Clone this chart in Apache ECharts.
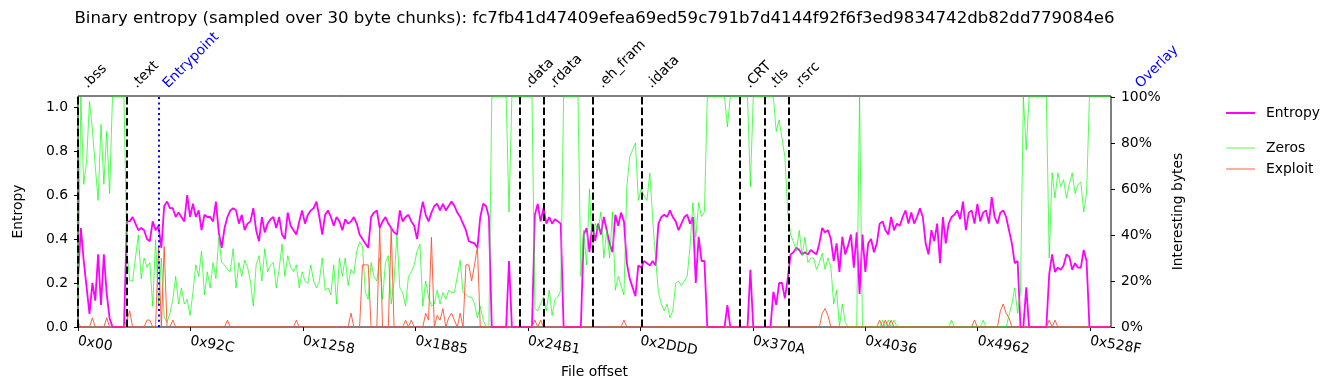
<!DOCTYPE html>
<html><head><meta charset="utf-8">
<script src="https://cdn.jsdelivr.net/npm/echarts@6/dist/echarts.min.js"></script>
<style>html,body{margin:0;padding:0;background:#fff}#c{width:1335px;height:390px}</style>
</head><body><div id="c"></div>
<script>
const TITLE = 'Binary entropy (sampled over 30 byte chunks): fc7fb41d47409efea69ed59c791b7d4144f92f6f3ed9834742db82dd779084e6';
const STEP = 60;          // bytes per plotted sample
const X_MAX = 21570;
const xTickLabels = ['0x00','0x92C','0x1258','0x1B85','0x24B1','0x2DDD','0x370A','0x4036','0x4962','0x528F'];
const entropyTicks = [0, 0.2, 0.4, 0.6, 0.8, 1.0];
const percentTicks = [0, 0.2, 0.4, 0.6, 0.8, 1.0];
const sectionNames = ['.bss','.text','.data','.rdata','.eh_fram','.idata','.CRT','.tls','.rsrc'];
const sectionOffsets = [0x0, 0x400, 0x2400, 0x2600, 0x2A00, 0x2E00, 0x3600, 0x3800, 0x3A00];
const entryName = 'Entrypoint', entryOffset = 0x690;
const overlayName = 'Overlay', overlayOffset = 0x55E0;

const entropy = [
0.22,0.45,0.3,0.18,0.06,0.2,0.12,0.33,0.1,0.33,
0.15,0.04,0,0,0,0,0,0.48,0.48,0.5,
0.47,0.44,0.45,0.44,0.4,0.39,0.48,0.44,0.46,0.36,
0.55,0.57,0.54,0.54,0.5,0.52,0.5,0.48,0.6,0.5,
0.56,0.5,0.53,0.44,0.51,0.5,0.5,0.48,0.57,0.43,
0.36,0.45,0.5,0.53,0.54,0.53,0.47,0.51,0.44,0.47,
0.48,0.54,0.44,0.39,0.5,0.43,0.47,0.49,0.5,0.45,
0.5,0.42,0.4,0.52,0.46,0.44,0.42,0.48,0.53,0.47,
0.51,0.53,0.54,0.57,0.5,0.42,0.51,0.53,0.5,0.46,
0.5,0.48,0.44,0.49,0.47,0.48,0.5,0.47,0.42,0.4,
0.38,0.36,0.5,0.52,0.53,0.45,0.48,0.5,0.47,0.45,
0.43,0.42,0.53,0.48,0.5,0.51,0.48,0.46,0.4,0.5,
0.57,0.51,0.48,0.52,0.55,0.56,0.53,0.56,0.53,0.55,
0.57,0.55,0.52,0.5,0.47,0.44,0.39,0.385,0.38,0.36,
0.5,0.56,0.55,0.5,0,0,0,0,0,0,
0.3,0,0,0,0,0,0,0,0,0.51,
0.56,0.48,0.54,0.47,0.5,0.47,0.49,0.48,0.47,0,
0,0,0,0,0,0,0.42,0.45,0.34,0.47,
0.39,0.47,0.42,0.5,0.44,0.38,0.34,0.51,0.46,0.52,
0.48,0.29,0.22,0.18,0.14,0.28,0.27,0.3,0.29,0.28,
0.3,0.28,0.47,0.5,0.51,0.5,0.53,0.5,0.48,0.44,
0.47,0.5,0.51,0.47,0.5,0.2,0.41,0.3,0.3,0,
0,0,0,0,0,0,0.1,0,0,0,
0,0,0,0,0.26,0,0,0,0,0,
0,0,0.16,0.1,0.2,0.2,0.13,0.22,0.33,0.34,
0.36,0.35,0.33,0.34,0.33,0.35,0.34,0.33,0.38,0.45,
0.43,0.44,0.4,0.3,0.38,0.25,0.41,0.33,0.37,0.42,
0.27,0.43,0.15,0.42,0.25,0.38,0.4,0.34,0.38,0.47,
0.48,0.44,0.42,0.5,0.44,0.47,0.46,0.5,0.53,0.47,
0.52,0.47,0.5,0.54,0.5,0.38,0.33,0.44,0.39,0.47,
0.29,0.5,0.38,0.47,0.5,0.51,0.53,0.49,0.57,0.44,
0.52,0.53,0.47,0.56,0.48,0.52,0.53,0.47,0.59,0.5,
0.47,0.52,0.53,0.5,0.44,0.38,0.29,0.3,0,0,
0.18,0,0,0,0,0,0,0,0.24,0.33,
0.25,0.27,0.26,0.28,0.33,0.32,0.26,0.29,0.27,0.27,
0.35,0.3,0,0,0,0,0,0,0,0
];

const zeros = [
0.1,1,0.62,0.72,0.98,0.86,0.7,0.55,0.88,0.62,
0.85,0.58,1,1,1,1,1,0.33,0.2,0.2,
0.3,0.4,0.21,0.3,0.26,0.28,0.09,0.38,0.1,0.3,
0.04,0.02,0.06,0.12,0.22,0.1,0.17,0.1,0.12,0.05,
0.15,0.27,0.22,0.33,0.14,0.24,0.17,0.28,0.21,0.39,
0.28,0.27,0.25,0.24,0.34,0.17,0.28,0.22,0.29,0.26,
0.2,0.09,0.27,0.31,0.2,0.34,0.24,0.27,0.28,0.17,
0.25,0.36,0.22,0.31,0.26,0.24,0.27,0.17,0.24,0.2,
0.19,0.27,0.2,0.17,0.2,0.3,0.16,0.17,0.14,0.27,
0.1,0.3,0.22,0.3,0.18,0.25,0.23,0.33,0.37,0.35,
0.15,0.12,0.28,0.22,0.2,0.3,0.12,0.28,0.31,0.1,
0.2,0.4,0.17,0.15,0.09,0.22,0.24,0.27,0.33,0.36,
0.09,0.2,0.13,0.09,0.1,0.16,0.1,0.15,0.12,0.16,
0.15,0.15,0.22,0.29,0.15,0.14,0.13,0.13,0.1,0.04,
0.09,0.03,0,0,1,1,1,1,1,1,
0.5,1,1,1,1,1,1,1,1,0.08,
0.07,0.1,0.13,0.07,0.16,0.05,0.12,0.13,0.16,1,
1,1,1,1,1,0.22,0.42,0.27,0.6,0.33,
0.45,0.42,0.5,0.3,0.42,0.3,0.5,0.16,0.22,0.18,
0.14,0.61,0.74,0.77,0.8,0.55,0.6,0.57,0.55,0.67,
0.47,0.3,0.15,0.1,0.07,0.1,0.04,0.07,0.19,0.2,
0.18,0.2,0.22,0.35,0.54,0.39,0.54,0.48,0.5,1,
1,1,1,1,1,1,0.87,1,1,1,
1,1,1,1,0.61,1,1,1,1,1,
1,1,1,0.85,0.9,0.82,0.74,0.5,0.4,0.37,
0.33,0.42,0.31,0.39,0.28,0.3,0.3,0.25,0.28,0.32,
0.25,0.3,0.26,0.1,0.16,0,0.1,0.02,0,0,
0,0,1,0,0,0,0,0,0,0,
0.03,0,0.03,0,0.03,0,0,0,0,0,
0,0,0,0,0,0,0,0,0,0,
0,0,0,0,0.03,0,0,0,0,0,
0,0,0,0,0,0.03,0,0,0,0,
0,0,0,0,0.05,0.1,0.17,0.06,0.15,1,
0.77,1,1,1,1,1,1,1,0.3,0.67,
0.56,0.67,0.61,0.64,0.56,0.62,0.67,0.58,0.62,0.63,
0.5,0.58,1,1,1,1,1,1,1,1
];

const exploit = [
0.02,0,0,0,0,0.04,0,0,0,0,
0.04,0,0,0,0,0,0,0.03,0.07,0,
0,0,0,0,0.03,0.03,0,0,0.35,0,
0.35,0,0,0.03,0,0,0,0,0,0,
0,0,0,0,0,0,0,0,0,0,
0,0,0.03,0,0,0,0,0,0,0,
0,0,0,0,0,0,0,0,0,0,
0,0,0,0,0,0,0.03,0,0,0,
0,0,0,0,0,0,0,0,0,0,
0,0,0,0,0,0.06,0,0,0,0.27,
0.27,0.27,0,0,0,0.43,0,0,0,0.43,
0,0,0,0,0.03,0,0.03,0,0,0,
0,0.06,0.03,0.39,0,0.05,0.03,0.08,0,0.04,
0.06,0.03,0,0.06,0,0.27,0.27,0.2,0.27,0.35,
0,0,0,0,0,0,0,0,0,0,
0,0,0,0,0,0,0,0,0,0.03,
0,0.03,0,0,0,0,0,0,0,0,
0,0,0,0,0,0,0,0,0,0,
0,0,0,0,0,0,0,0,0,0,
0.03,0,0,0,0,0,0,0,0,0,
0,0,0,0,0,0,0,0,0,0,
0,0,0,0,0,0,0,0,0,0,
0,0,0,0,0,0,0,0,0,0,
0,0,0,0,0,0,0,0,0,0,
0,0,0,0,0,0,0,0,0,0,
0,0,0,0,0,0,0,0,0,0.06,
0.08,0.05,0,0,0,0,0,0,0,0,
0,0,0,0,0,0,0,0,0,0.03,
0,0.03,0,0.03,0,0,0,0,0,0,
0,0,0,0,0,0,0,0,0,0,
0,0,0,0,0,0,0,0,0,0,
0,0,0.03,0,0,0,0,0,0,0,
0,0.07,0.1,0.06,0.04,0,0,0,0,0,
0,0,0,0,0,0,0,0,0.03,0,
0.03,0,0,0,0,0,0,0,0,0,
0,0,0,0,0,0,0,0,0,0
];

const FONT = 'DejaVu Sans';
const FS = 13.9;
const GREEN = 'rgba(0,255,0,0.68)';
const RED = 'rgba(255,80,45,0.9)';
const xTickValues = xTickLabels.map(s => parseInt(s, 16));
const toPairs = arr => arr.map((v, i) => [i * STEP, v]);
const labelFor = v => { const k = xTickValues.indexOf(Math.round(v)); return k >= 0 ? xTickLabels[k] : ''; };
const txt = { color: '#000', fontFamily: FONT, fontSize: FS };

const chart = echarts.init(document.getElementById('c'), null, { renderer: 'canvas' });

const option = {
  animation: false,
  backgroundColor: '#fff',
  grid: { left: 78, right: 224, top: 96, bottom: 63, show: true, borderColor: '#000', borderWidth: 1, backgroundColor: 'transparent' },
  legend: [
    { data: ['Entropy'], orient: 'vertical', left: 1221, top: 101, icon: 'rect', itemWidth: 29, itemHeight: 2,
      selectedMode: false, textStyle: Object.assign({ lineHeight: 14, padding: [0, 0, 0, 6] }, txt) },
    { data: ['Zeros', 'Exploit'], orient: 'vertical', left: 1221, top: 136, icon: 'rect', itemWidth: 29, itemHeight: 1,
      itemGap: 7, selectedMode: false, textStyle: Object.assign({ lineHeight: 14, padding: [0, 0, 0, 6] }, txt) }
  ],
  xAxis: {
    type: 'value', min: 0, max: X_MAX,
    axisLine: { show: false }, splitLine: { show: false },
    axisTick: { show: true, length: 4, customValues: xTickValues, lineStyle: { color: '#000' } },
    axisLabel: Object.assign({ customValues: xTickValues, formatter: labelFor, rotate: -10, margin: 14, hideOverlap: false }, txt),
    name: 'File offset', nameLocation: 'middle', nameGap: 38, nameTextStyle: txt
  },
  yAxis: [
    { type: 'value', min: 0, max: 1.05, position: 'left',
      axisLine: { show: false }, splitLine: { show: false },
      axisTick: { show: true, length: 4, customValues: entropyTicks, lineStyle: { color: '#000' } },
      axisLabel: Object.assign({ customValues: entropyTicks, formatter: v => v.toFixed(1), margin: 10 }, txt),
      name: 'Entropy', nameLocation: 'middle', nameGap: 53, nameTextStyle: txt },
    { type: 'value', min: 0, max: 1.004, position: 'right',
      axisLine: { show: false }, splitLine: { show: false },
      axisTick: { show: true, length: 4, customValues: percentTicks, lineStyle: { color: '#000' } },
      axisLabel: Object.assign({ customValues: percentTicks, formatter: v => Math.round(v * 100) + '%', margin: 10 }, txt),
      name: 'Interesting bytes', nameLocation: 'middle', nameGap: 48, nameTextStyle: txt }
  ],
  series: [
    { name: 'Entropy', type: 'line', yAxisIndex: 0, data: toPairs(entropy), symbol: 'none', color: '#ff00ff',
      lineStyle: { width: 1.8, color: '#ff00ff' }, z: 2 },
    { name: 'Zeros', type: 'line', yAxisIndex: 1, data: toPairs(zeros), symbol: 'none', color: GREEN,
      lineStyle: { width: 1, color: GREEN }, z: 3 },
    { name: 'Exploit', type: 'line', yAxisIndex: 1, data: toPairs(exploit), symbol: 'none', color: RED,
      lineStyle: { width: 1, color: RED }, z: 4 },
    { name: 'sections', type: 'line', yAxisIndex: 0, data: [], z: 5,
      markLine: {
        silent: true, symbol: ['none', 'none'], label: { show: false },
        lineStyle: { color: '#000', type: [7.4, 3.2], width: 2 },
        data: sectionOffsets.map(o => ({ xAxis: o }))
          .concat([{ xAxis: entryOffset, lineStyle: { color: '#0000ff', type: [2, 3.3], width: 2 } }])
      } }
  ]
};
chart.setOption(option);

const xpix = v => chart.convertToPixel({ xAxisIndex: 0 }, v);
const topY = chart.convertToPixel({ yAxisIndex: 0 }, 1.05);
const labelY = topY - 5;
function secLabel(name, off, color) {
  return { type: 'text', x: xpix(off) + 12, y: labelY, rotation: Math.PI / 4, silent: true,
    style: { text: name, fill: color, fontFamily: FONT, fontSize: FS,
      align: 'left', verticalAlign: 'bottom', textAlign: 'left', textVerticalAlign: 'bottom' } };
}
const graphics = sectionNames.map((n, k) => secLabel(n, sectionOffsets[k], '#000'));
graphics.push(secLabel(entryName, entryOffset, '#0000ff'));
graphics.push(secLabel(overlayName, overlayOffset, '#0000ff'));
graphics.push({ type: 'text', x: (xpix(0) + xpix(X_MAX)) / 2, y: 18.5, silent: true,
  style: { text: TITLE, fill: '#000', fontFamily: FONT, fontSize: 16.6,
    align: 'center', verticalAlign: 'middle', textAlign: 'center', textVerticalAlign: 'middle' } });
chart.setOption({ graphic: graphics });
</script>
</body></html>
